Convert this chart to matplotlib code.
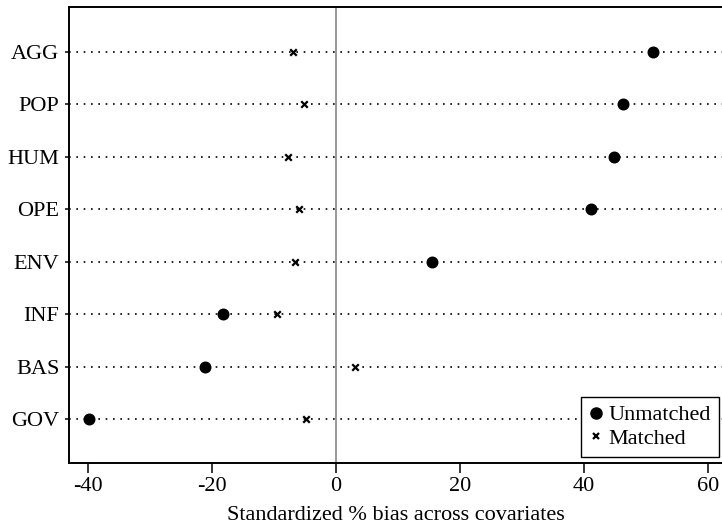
import matplotlib
matplotlib.use("Agg")
import matplotlib.pyplot as plt
from matplotlib.lines import Line2D

categories = ["AGG", "POP", "HUM", "OPE", "ENV", "INF", "BAS", "GOV"]
unmatched = [51.1, 46.3, 44.8, 41.2, 15.5, -18.3, -21.2, -39.8]
matched = [-7.0, -5.2, -7.8, -6.0, -6.6, -9.5, 3.1, -4.9]
xticks = [-40, -20, 0, 20, 40, 60]
xlabel = "Standardized % bias across covariates"

plt.rcParams['font.family'] = ['Liberation Serif', 'DejaVu Serif']
plt.rcParams['font.size'] = 15

fig = plt.figure(figsize=(7.22, 5.24), dpi=100)
ax = fig.add_axes([69/722, (524-463)/524, 1 - 69/722, (463-7)/524])

n = len(categories)
ypos = list(range(n, 0, -1))

for y in ypos:
    ax.axhline(y, color='black', lw=1.2, linestyle=(0, (1, 3.4)), zorder=1)
ax.axvline(0, color='#999999', lw=1.4, zorder=1)

ax.scatter(unmatched, ypos, s=58, marker='o', color='black', zorder=3, label='Unmatched')
ax.scatter(matched, ypos, s=22, marker='x', color='black', linewidths=1.6, zorder=3, label='Matched')

ax.set_xlim(-43.1, 62.3)
ax.set_ylim(0.16, n + 0.86)
ax.set_yticks(ypos)
ax.set_yticklabels(categories, fontsize=16)
ax.set_xticks(xticks)
ax.set_xticklabels([str(t) for t in xticks], fontsize=16)
ax.set_xlabel(xlabel, fontsize=16, labelpad=7)

ax.tick_params(axis='x', length=7, width=1.1, pad=3)
ax.tick_params(axis='y', length=3, width=1.1, pad=4)
for s in ['left', 'bottom', 'top']:
    ax.spines[s].set_linewidth(1.4)
ax.spines['right'].set_visible(False)

handles = [
    Line2D([], [], marker='o', color='black', linestyle='none', markersize=8),
    Line2D([], [], marker='x', color='black', linestyle='none', markersize=5, markeredgewidth=1.6),
]
leg = ax.legend(handles, ['Unmatched', 'Matched'], loc='lower right',
                bbox_to_anchor=((719-69)/653, (463-457)/456), frameon=True, fancybox=False,
                edgecolor='black', framealpha=1, fontsize=16,
                handlelength=0.6, handletextpad=0.3, labelspacing=0.15,
                borderpad=0.35, borderaxespad=0)
leg.get_frame().set_linewidth(1.0)

fig.savefig("out.png", dpi=100)
